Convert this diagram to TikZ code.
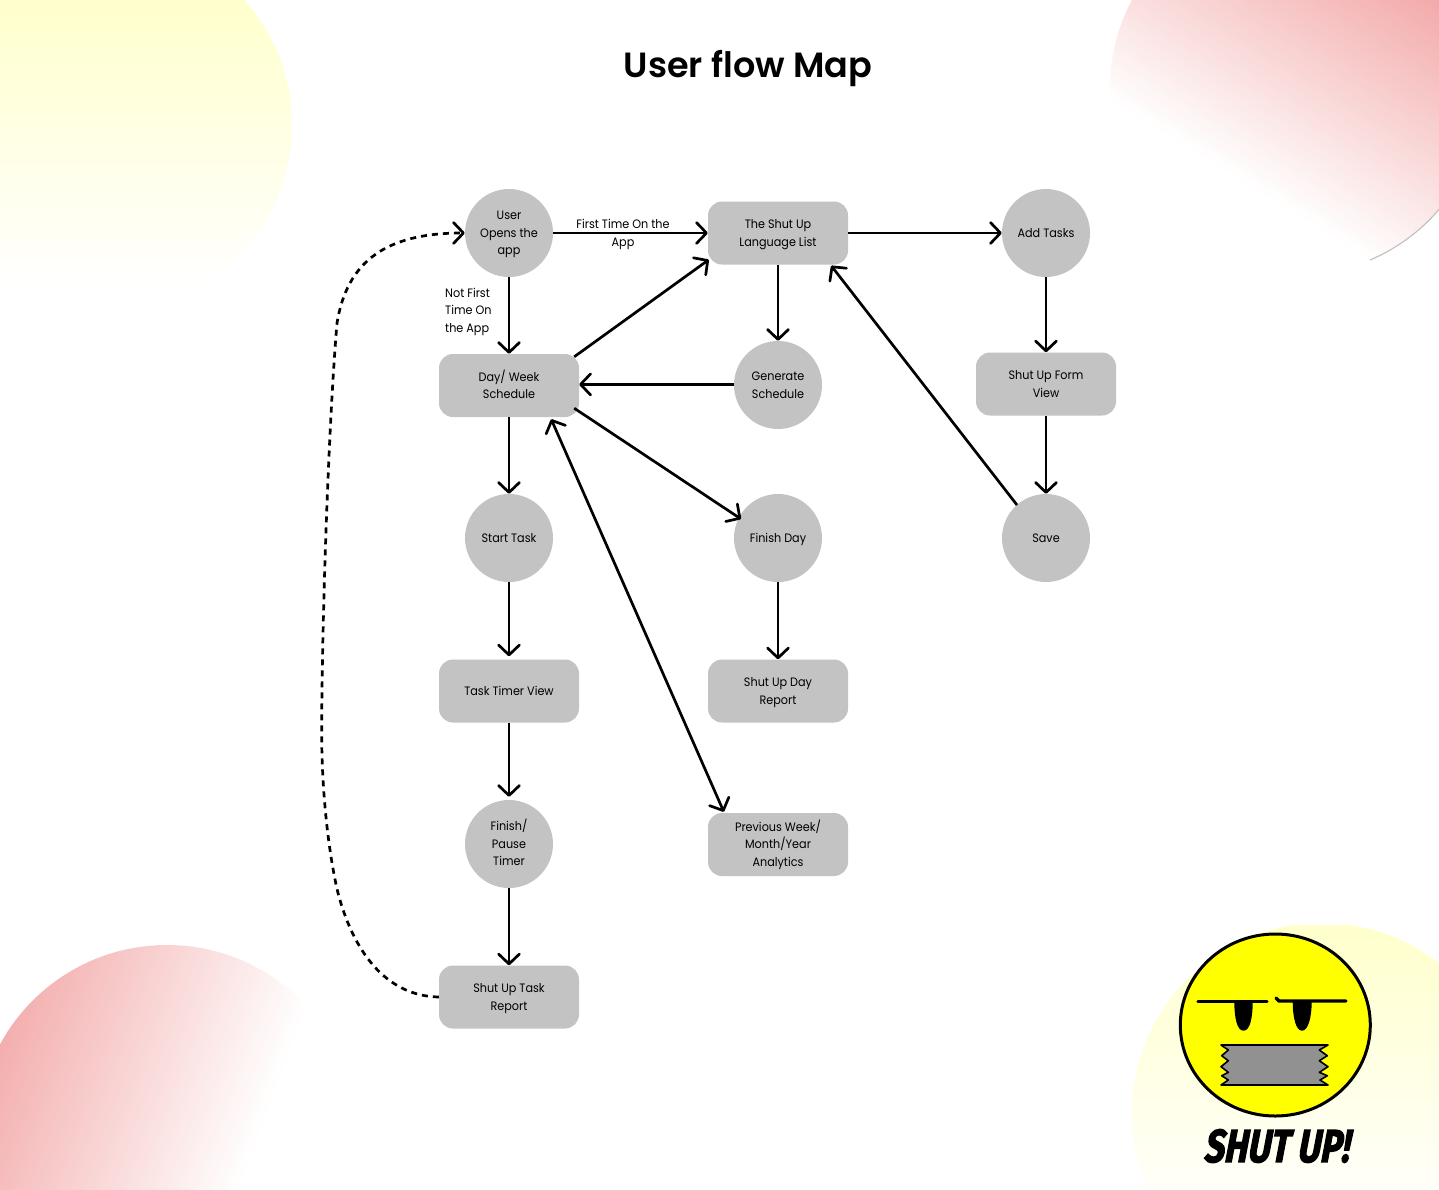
\documentclass[tikz,border=0pt]{standalone}
\usepackage{fontspec}
\setmainfont[FakeStretch=0.92]{Poppins}
\newfontfamily\titlefont{Poppins SemiBold}
\newfontfamily\shutfont[FakeSlant=0.25,FakeBold=3]{Fira Sans}
\usetikzlibrary{arrows.meta,calc,shapes.geometric}
\definecolor{nodegray}{HTML}{C3C3C3}
\definecolor{blobpink}{HTML}{F3AAAA}
\definecolor{blobyellow}{HTML}{FFFFCC}
\definecolor{faceyellow}{HTML}{FFFF00}
\newcommand{\gradblob}[8]{%
  \begin{scope}
    \clip (#1,#2) circle[radius=#3];
    \begin{scope}[transform canvas={shift={(#4,#5)},rotate=#6}]
      \shade[top color=#8,bottom color=white] (-700,0) rectangle (700,#7);
    \end{scope}
  \end{scope}}
\tikzset{
  txt/.style={font=\fontsize{12.2}{17.6}\selectfont,text=black,align=center,
    execute at end node={\rule[-4pt]{0pt}{4pt}}},
  oneline/.style={execute at begin node={\rule{0pt}{12.6pt}}},
  twolines/.style={execute at begin node={\rule{0pt}{30.2pt}}},
  threelines/.style={execute at begin node={\rule{0pt}{47.8pt}}},
  circ/.style={circle,fill=nodegray,minimum size=88pt,inner sep=0pt,txt},
  box/.style={rectangle,fill=nodegray,rounded corners=14pt,minimum width=140pt,minimum height=63pt,inner sep=0pt,txt},
  flow/.style={line width=2.7pt,-{Straight Barb[length=10pt,width=21pt,line width=2.7pt,round]}},
  flowboth/.style={line width=2.7pt,{Straight Barb[length=10pt,width=21pt,line width=2.7pt,round]}-{Straight Barb[length=10pt,width=21pt,line width=2.7pt,round]}},
  loopback/.style={line width=2.7pt,dash pattern=on 6pt off 5pt,-{Straight Barb[length=10pt,width=21pt,line width=2.7pt,round]}},
  edgelabel/.style={txt,inner sep=0pt},
}
\begin{document}
\begin{tikzpicture}[x=1pt,y=-1pt]
\useasboundingbox (0,0) rectangle (1439,1189);
\fill[white] (0,0) rectangle (1439,1189);
% decorative blobs
\gradblob{105}{125}{187}{105}{0}{0}{285}{blobyellow}
\gradblob{1297}{88}{187}{1439}{0}{-31.6}{258}{blobpink}
\gradblob{167}{1135}{190}{0}{1000}{69.8}{290}{blobpink}
\gradblob{1322}{1113}{190}{1322}{925}{0}{300}{blobyellow}
\draw[black!25,line width=1.1pt] (1370,260) arc[start angle=67,end angle=39,radius=187];
% title
\node[font=\fontsize{35}{40}\titlefont\selectfont,inner sep=0pt] (title) at (748,68) {User flow Map};
% nodes
\node[circ,threelines] (user) at (509,233) {User\\Opens the\\app};
\node[box,twolines] (lang) at (778,233) {The Shut Up\\Language List};
\node[circ,oneline] (add) at (1046,233) {Add Tasks};
\node[box,twolines] (day) at (509,385.5) {Day/ Week\\Schedule};
\node[circ,twolines] (gen) at (778,385) {Generate\\Schedule};
\node[box,twolines] (form) at (1046,384) {Shut Up Form\\View};
\node[circ,oneline] (start) at (509,538) {Start Task};
\node[circ,oneline] (finish) at (778,538) {Finish Day};
\node[circ,oneline] (save) at (1046,538) {Save};
\node[box,oneline] (timer) at (509,691) {Task Timer View};
\node[box,twolines] (dayrep) at (778,691) {Shut Up Day\\Report};
\node[circ,threelines] (pause) at (509,844) {Finish/\\Pause\\Timer};
\node[box,threelines] (prev) at (778,844.5) {Previous Week/\\Month/Year\\Analytics};
\node[box,twolines] (taskrep) at (509,997) {Shut Up Task\\Report};
% labels
\node[edgelabel,twolines] (lfirst) at (623,233) {First Time On the\\App};
\node[edgelabel,threelines,align=left,anchor=west] (lnot) at (445,310.5) {Not First\\Time On\\the App};
% connectors
\draw[flow] (user.east) -- (lang.west);
\draw[flow] (user.south) -- (day.north);
\draw[flow] ([shift={(-5,3)}]day.north east) -- ([shift={(1,-5)}]lang.south west);
\draw[flow] ([yshift=.6pt]gen.west) -- ([yshift=1.1pt]day.east);
\draw[flow] (lang.south) -- (gen.north);
\draw[flow] (lang.east) -- (add.west);
\draw[flow,xshift=.7pt] (add.south) -- (form.north);
\draw[flow,xshift=.7pt] (form.south) -- (save.north);
\draw[flow] ([shift={(-29,-33)}]save.center) -- ([shift={(-17,1)}]lang.south east);
\draw[flow] (day.south) -- (start.north);
\draw[flow] ([shift={(-5,-9)}]day.south east) -- ([shift={(-37,-19)}]finish.center);
\draw[flow,xshift=.7pt] (finish.south) -- (dayrep.north);
\draw[flow,shorten >=3pt] (start.south) -- (timer.north);
\draw[flow,shorten >=3pt] (timer.south) -- (pause.north);
\draw[flow] (pause.south) -- (taskrep.north);
\draw[flowboth] ([shift={(16,-1)}]prev.north west) -- ([shift={(-28,2)}]day.south east);
\draw[loopback] (taskrep.west) .. controls (385,996) and (353,950) .. (338,893) .. controls (330,860) and (322,800) .. (321.7,737) .. controls (321.5,640) and (328,430) .. (337,323) .. controls (347,262) and (385,233) .. (user.west);
% logo
\fill[faceyellow,draw=black,line width=3pt] (1275.3,1025) ellipse[x radius=95,y radius=91];
\fill[black] (1234.3,1001) -- (1252.7,1001) .. controls (1252.7,1018) and (1250,1030.7) .. (1243.5,1030.7) .. controls (1237,1030.7) and (1234.3,1018) .. (1234.3,1001) -- cycle;
\fill[black] (1292.7,1001) -- (1311.7,1001) .. controls (1311.7,1018) and (1308,1030.7) .. (1302,1030.7) .. controls (1296,1030.7) and (1292.7,1018) .. (1292.7,1001) -- cycle;
\draw[black,line width=3.4pt,line cap=round] (1198,1001.7) -- (1267,1001.7);
\draw[black,line width=3.4pt,line cap=round,line join=round] (1276,998) -- (1279,1001) -- (1346,1001);
\fill[black!43,draw=black,line width=1.6pt,line join=round] (1221,1045) -- (1328,1045) -- (1319.3,1050) -- (1327.3,1055.7) -- (1319.3,1060.7) -- (1328,1066.7) -- (1319.3,1072.3) -- (1327.3,1075.7) -- (1320,1080) -- (1328,1085) -- (1221,1085) -- (1228.3,1080) -- (1221.7,1075.7) -- (1228.3,1072.3) -- (1221,1066.7) -- (1228.3,1060.7) -- (1221.7,1055.7) -- (1228.3,1050) -- cycle;
\node[font=\fontsize{46}{46}\shutfont\bfseries\selectfont,xscale=0.76,inner sep=0pt] (logo) at (1276,1146) {SHUT UP!};
\end{tikzpicture}
\end{document}
